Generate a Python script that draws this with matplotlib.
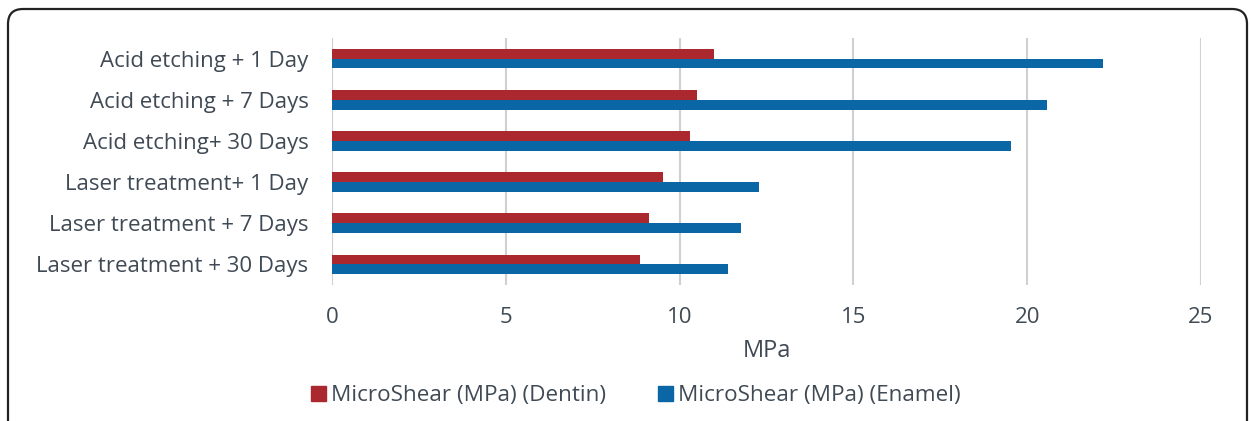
import matplotlib.pyplot as plt
import numpy as np
from matplotlib.patches import FancyBboxPatch, Patch

categories = [
    "Acid etching + 1 Day",
    "Acid etching + 7 Days",
    "Acid etching+ 30 Days",
    "Laser treatment+ 1 Day",
    "Laser treatment + 7 Days",
    "Laser treatment + 30 Days",
]
dentin = [11.0, 10.5, 10.3, 9.53, 9.12, 8.86]
enamel = [22.18, 20.56, 19.54, 12.29, 11.78, 11.39]
xticks = [0, 5, 10, 15, 20, 25]

RED = "#AB282E"
BLUE = "#0B66A6"
TXT = "#3F4A55"

plt.rcParams["font.family"] = ["Open Sans", "DejaVu Sans"]

W, H = 1251, 421
fig = plt.figure(figsize=(W / 100, H / 100), dpi=100)

# rounded frame around the whole chart
frame = FancyBboxPatch((8 / W, -20 / H), 1239 / W, (H - 9 + 20) / H,
                       boxstyle="round,pad=0,rounding_size=0.012",
                       transform=fig.transFigure, facecolor="none",
                       edgecolor="#222222", linewidth=1.6, mutation_aspect=W / H)
fig.patches.append(frame)

ax = fig.add_axes([332 / W, (H - 285) / H, (1201 - 332) / W, (285 - 38) / H])
y = np.arange(len(categories))
h = 0.24
ax.barh(y - h / 2, dentin, height=h, color=RED, zorder=3)
ax.barh(y + h / 2, enamel, height=h, color=BLUE, zorder=3)

ax.set_xlim(0, 25)
ax.set_ylim(len(categories) - 0.5, -0.5)
ax.set_xticks(xticks)
ax.set_yticks(y)
ax.set_yticklabels(categories, fontsize=16, color=TXT)
ax.set_xticklabels([str(t) for t in xticks], fontsize=16, color=TXT)
ax.tick_params(length=0)
ax.tick_params(axis="x", pad=16)
ax.tick_params(axis="y", pad=17)
ax.grid(axis="x", color="#d0d0d0", linewidth=1.5, zorder=0)
for s in ax.spines.values():
    s.set_visible(False)
ax.set_xlabel("MPa", fontsize=17, color=TXT, labelpad=8)

handles = [Patch(color=RED, label="MicroShear (MPa) (Dentin)"),
           Patch(color=BLUE, label="MicroShear (MPa) (Enamel)")]
fig.legend(handles=handles, loc="center", bbox_to_anchor=(636 / W, 1 - 396 / H),
           ncol=2, frameon=False, fontsize=16.2, handlelength=0.67, handleheight=0.67,
           handletextpad=0.22, columnspacing=2.3, labelcolor=TXT)

fig.savefig("out.png", dpi=100)
